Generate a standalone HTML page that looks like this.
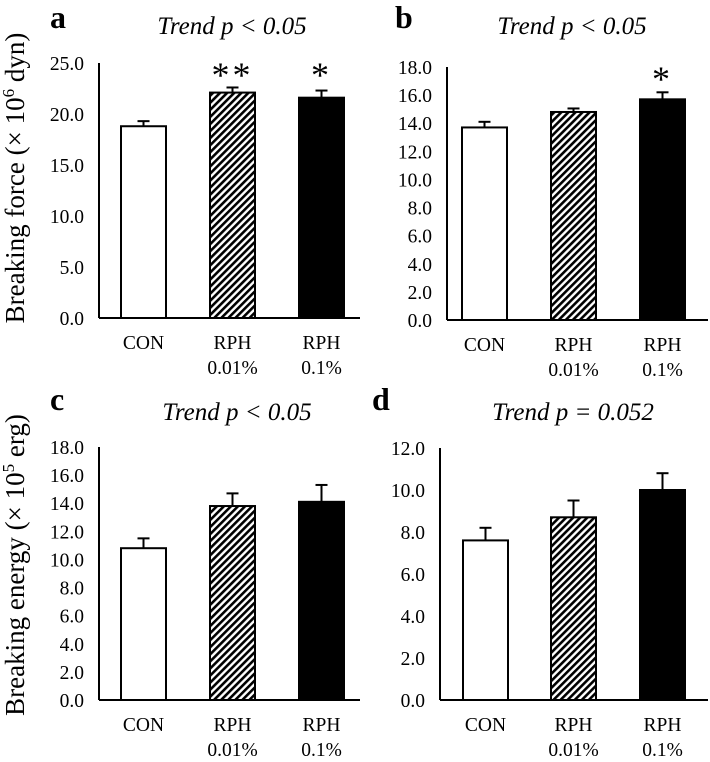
<!DOCTYPE html>
<html><head><meta charset="utf-8"><style>
html,body{margin:0;padding:0;background:#fff;}
svg{display:block;font-family:"Liberation Serif",serif;}
</style></head><body>
<svg id="fig" width="710" height="762" viewBox="0 0 710 762" xmlns="http://www.w3.org/2000/svg">
<defs>
<pattern id="hatch" patternUnits="userSpaceOnUse" width="5" height="5" patternTransform="rotate(45)">
<rect width="5" height="5" fill="#fff"/><rect width="2.6" height="5" fill="#000"/>
</pattern>
</defs>
<text x="24" y="178" transform="rotate(-90 24 178)" font-size="27" text-anchor="middle">Breaking force (<tspan>× 10</tspan><tspan font-size="17" dy="-10">6</tspan><tspan dy="10"> dyn)</tspan></text>
<text x="24" y="565" transform="rotate(-90 24 565)" font-size="27" text-anchor="middle">Breaking energy (<tspan>× 10</tspan><tspan font-size="17" dy="-10">5</tspan><tspan dy="10"> erg)</tspan></text>
</svg>
<script>
const categories = ["CON", "RPH|0.01%", "RPH|0.1%"];
const valuesA = [18.8, 22.1, 21.6];
const errorsA = [0.5, 0.5, 0.7];
const valuesB = [13.7, 14.8, 15.7];
const errorsB = [0.4, 0.25, 0.5];
const valuesC = [10.8, 13.8, 14.1];
const errorsC = [0.7, 0.9, 1.2];
const valuesD = [7.6, 8.7, 10.0];
const errorsD = [0.6, 0.8, 0.8];
const ticksA = ["0.0","5.0","10.0","15.0","20.0","25.0"];
const ticksB = ["0.0","2.0","4.0","6.0","8.0","10.0","12.0","14.0","16.0","18.0"];
const ticksC = ["0.0","2.0","4.0","6.0","8.0","10.0","12.0","14.0","16.0","18.0"];
const ticksD = ["0.0","2.0","4.0","6.0","8.0","10.0","12.0"];
const starsA = ["", "**", "*"];
const starsB = ["", "", "*"];
const starsC = ["", "", ""];
const starsD = ["", "", ""];

const NS = "http://www.w3.org/2000/svg";
const svg = document.getElementById("fig");
function mk(tag, attrs, parent){const e=document.createElementNS(NS,tag);for(const k in attrs)e.setAttribute(k,attrs[k]);(parent||svg).appendChild(e);return e;}

const fills = ["#fff","url(#hatch)","#000"];
function panel(id, letter, title, ax, ay0, ay1, axEnd, maxV, ticks, vals, errs, stars, letterX, letterY, titleX, titleY, barX){
  const g = mk("g",{});
  
  
  const y = v => ay0 - (v/maxV)*(ay0-ay1);
  const lt = mk("text",{x:letterX,y:letterY,"font-size":32,"font-weight":"bold"},g); lt.textContent=letter;
  
  
  const tt = mk("text",{x:titleX,y:titleY,"font-size":25,"font-style":"italic","text-anchor":"middle"},g); tt.textContent=title;
  
  
  const ya = mk("line",{x1:ax,y1:ay1,x2:ax,y2:ay0,stroke:"#000","stroke-width":2},g);
  
  
  const xa = mk("line",{x1:ax,y1:ay0,x2:axEnd,y2:ay0,stroke:"#000","stroke-width":2},g);
  
  
  ticks.forEach(t=>{
    const tx = mk("text",{x:ax-15,y:y(parseFloat(t))+7,"font-size":19.5,"text-anchor":"end"},g); tx.textContent=t;
    
    
  });
  vals.forEach((v,i)=>{
    const x = barX[i], w = 45, cx = x + w/2;
    const et = y(v+errs[i]);
    const el = mk("line",{x1:cx,y1:y(v),x2:cx,y2:et,stroke:"#000","stroke-width":2},g);
    
    
    const ec = mk("line",{x1:cx-6,y1:et,x2:cx+6,y2:et,stroke:"#000","stroke-width":2},g);
    
    
    const r = mk("rect",{x:x,y:y(v),width:w,height:ay0-y(v),fill:fills[i],stroke:"#000","stroke-width":2},g);
    
    
    const parts = categories[i].split("|");
    parts.forEach((p,j)=>{
      const c = mk("text",{x:cx,y:ay0+31+j*25,"font-size":19.5,"text-anchor":"middle"},g); c.textContent=p;
      
      
    });
    if(stars[i]){
      const s = mk("text",{x:cx,y:ay1+24,"font-size":36,"text-anchor":"middle","letter-spacing":"3"},g); s.textContent=stars[i];
      
      
    }
  });
}
panel("a","a","Trend p < 0.05",99,318,63,360,25,ticksA,valuesA,errorsA,starsA,50,28,232,34,[121,210,299]);
panel("b","b","Trend p < 0.05",447,320,67,708,18,ticksB,valuesB,errorsB,starsB,395,28,572,34,[462,551,640]);
panel("c","c","Trend p < 0.05",99,700,447,360,18,ticksC,valuesC,errorsC,starsC,50,410,237,420,[121,210,299]);
panel("d","d","Trend p = 0.052",440,700,448,708,12,ticksD,valuesD,errorsD,starsD,372,410,573,420,[463,551,640]);
</script>
</body></html>
